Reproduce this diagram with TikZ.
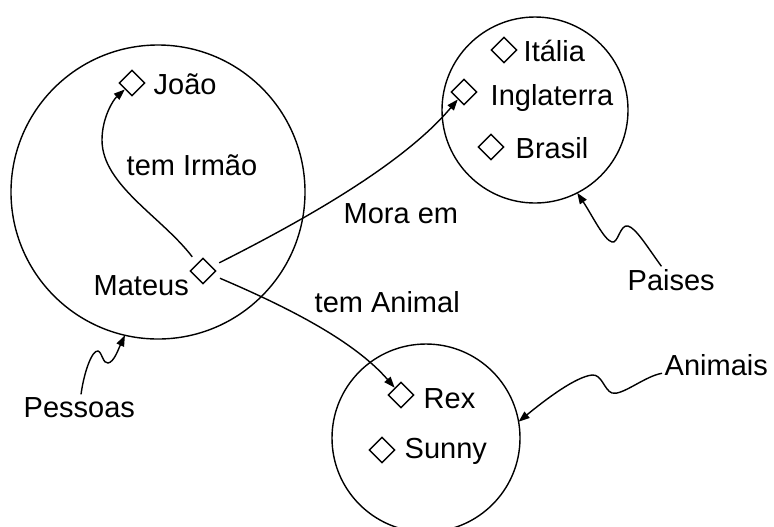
\documentclass[tikz,border=0pt]{standalone}
\usepackage{fontspec}
\setmainfont{Liberation Sans}
\usetikzlibrary{shapes.geometric,arrows.meta}

\begin{document}
\begin{tikzpicture}[x=0.5pt,y=-0.5pt,line width=0.7pt,
    font=\fontsize{14.5}{17}\selectfont,
    item/.style={diamond,draw,inner sep=0pt,minimum width=13pt,minimum height=13pt},
    txt/.style={anchor=base west,inner sep=1pt},
    set/.style={circle,draw,inner sep=0pt,outer sep=0pt},
    rel/.style={-{Triangle[length=5.5pt,width=4pt]},shorten <=4pt},
    wave/.style={-{Triangle[length=5.5pt,width=4pt]}}]
    \useasboundingbox (0,0) rectangle (774,526);

    \node[set,minimum size=147pt] (Pessoas) at (158,192) {};
    \node[set,minimum size=93pt] (Paises) at (535,110) {};
    \node[set,minimum size=94pt] (Animais) at (426,438) {};

    \node[item] (Joao) at (132,83) {}; \node[item] (Mateus) at (203,271) {};
    \node[item] (Italia) at (504,50) {}; \node[item] (Inglaterra) at (464,92) {};
    \node[item] (Brasil) at (491,147) {};
    \node[item] (Rex) at (401,395) {}; \node[item] (Sunny) at (382,450) {};

    \node[txt] (JoaoLbl) at (151,94) {João}; \node[txt] (MateusLbl) at (91,295) {Mateus};
    \node[txt] (ItaliaLbl) at (521,61) {Itália}; \node[txt] (InglaterraLbl) at (488,105) {Inglaterra};
    \node[txt] (BrasilLbl) at (513,158) {Brasil};
    \node[txt] (RexLbl) at (421,408) {Rex}; \node[txt] (SunnyLbl) at (402,458) {Sunny};

    \node[txt] (Irmao) at (124,175) {tem Irmão}; \node[txt] (Mora) at (341,223) {Mora em};
    \node[txt] (Animal) at (312,312) {tem Animal};

    \node[txt] (PessoasLbl) at (21,417) {Pessoas}; \node[txt] (PaisesLbl) at (625,290) {Paises};
    \node[txt] (AnimaisLbl) at (662,375) {Animais};

    \draw[rel] (Mateus) .. controls (162,217) and (102,185) .. (102,140)
        .. controls (102,118) and (113,100) .. (Joao);
    \draw[rel] (Mateus) .. controls (314,215) and (406,161) .. (Inglaterra);
    \draw[rel] (Mateus) .. controls (292,309) and (355,342) .. (Rex);

    \draw[wave] (PessoasLbl) .. controls (84,372) and (92,350) .. (98,351)
        .. controls (102,352) and (103,364) .. (108,363)
        .. controls (114,362) and (118,350) .. (Pessoas.257);
    \draw[wave] (PaisesLbl) .. controls (648,248) and (636,228) .. (628,226)
        .. controls (620,224) and (618,244) .. (612,242)
        .. controls (604,240) and (592,215) .. (Paises.297);
    \draw[wave] (AnimaisLbl) .. controls (645,376) and (622,396) .. (612,393)
        .. controls (604,390) and (602,374) .. (592,375)
        .. controls (575,377) and (545,400) .. (Animais.10);
  \end{tikzpicture}
\end{document}
